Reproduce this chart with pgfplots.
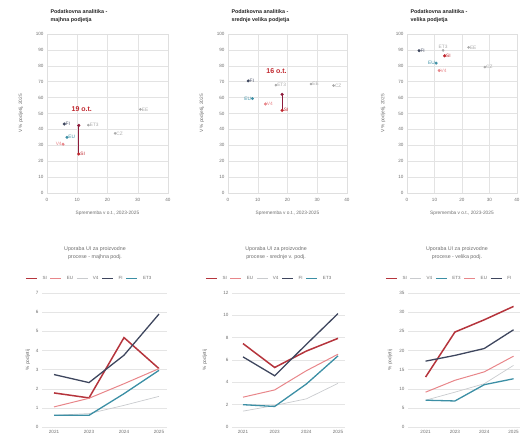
\documentclass[border=0pt]{standalone}
\usepackage{fontspec}
\setmainfont{Liberation Sans}
\usepackage{pgfplots}
\pgfplotsset{compat=1.18}
\definecolor{sidark}{HTML}{8E1B3B}
\definecolor{sired}{HTML}{C0262D}
\definecolor{siline}{HTML}{B5343C}
\definecolor{eupink}{HTML}{E8868A}
\definecolor{v4gray}{HTML}{C9CBCE}
\definecolor{finavy}{HTML}{3E465E}
\definecolor{etteal}{HTML}{3C8FA5}
\definecolor{ptgray}{HTML}{A9A9A9}
\definecolor{txtgray}{HTML}{6E6E6E}
\tikzset{pl/.style={font=\fontsize{4.8}{5}\selectfont, inner sep=1.2pt}}
\pgfplotsset{
  scat/.style={scale only axis, height=159pt, xmin=0, xmax=40, ymin=0, ymax=100,
    xtick={0,10,...,40}, ytick={0,10,...,100}, grid=major,
    grid style={gray!22, line width=0.4pt}, axis line style={gray!25},
    major tick length=0pt, clip=false,
    /pgf/number format/assume math mode=true,
    tick label style={font=\fontsize{4.6}{5}\selectfont, text=txtgray},
    xticklabel style={yshift=-2pt},
    xlabel={Sprememba v o.t., 2023-2025}, ylabel={V \% podjetij, 2025},
    label style={font=\fontsize{4.8}{5}\selectfont, text=txtgray},
    xlabel style={at={(axis description cs:0.5,-0.13)}, anchor=center},
    title style={at={(axis description cs:0,1)}, anchor=south west, align=left,
      yshift=2pt, font=\bfseries\fontsize{5.4}{7.5}\selectfont, text=black!85},
  },
  lin/.style={scale only axis, height=134pt, ymin=0,
    xtick={0,1,2,3}, xticklabels={2021,2023,2024,2025},
    ymajorgrids, grid style={gray!20, line width=0.4pt}, axis line style={draw=none},
    major tick length=0pt,
    /pgf/number format/assume math mode=true,
    tick label style={font=\fontsize{4.6}{5}\selectfont, text=txtgray},
    ylabel={\% podjetij},
    label style={font=\fontsize{4.8}{5}\selectfont, text=txtgray},
    title style={align=center, anchor=center, font=\fontsize{5.3}{8}\selectfont, text=txtgray},
    legend columns=5,
    legend style={draw=none, fill=none, anchor=west, inner sep=0pt,
      font=\fontsize{4.5}{5}\selectfont, text=txtgray,
      /tikz/every even column/.append style={column sep=1pt},
      /tikz/every odd column/.append style={column sep=3pt}},
    legend image code/.code={\draw[#1] (0pt,0pt) -- (11pt,0pt);},
  },
}
\begin{document}
\begin{tikzpicture}
\useasboundingbox (0,0) rectangle (523pt,440pt);
% ---------- Scatter 1 ----------
\begin{axis}[scat, at={(47pt,247pt)}, anchor=south west, width=121pt,
  ylabel style={at={(axis description cs:-0.215,0.5)}, anchor=center},
  title={Podatkovna analitika -\\majhna podjetja}]
\addplot[sidark, line width=0.6pt] coordinates {(10.5,42.5) (10.5,24.5)};
\addplot[only marks, mark=*, mark size=1.3pt, finavy] coordinates {(5.7,43.4)};
\addplot[only marks, mark=*, mark size=1.3pt, etteal] coordinates {(6.6,35)};
\addplot[only marks, mark=*, mark size=1.3pt, eupink] coordinates {(5.3,30.7)};
\addplot[only marks, mark=*, mark size=1.1pt, ptgray] coordinates {(13.7,42.7) (22.5,37.5) (30.9,52.6)};
\addplot[only marks, mark=*, mark size=1.4pt, sidark] coordinates {(10.5,42.5)};
\addplot[only marks, mark=*, mark size=1.4pt, sired] coordinates {(10.5,24.5)};
\node[pl, right, text=finavy] at (axis cs:5.7,43.4) {FI};
\node[pl, right, text=etteal] at (axis cs:6.6,35) {EU};
\node[pl, left, text=eupink] at (axis cs:5.3,30.7) {V4};
\node[pl, right, text=ptgray] at (axis cs:13.7,42.7) {ET3};
\node[pl, right, text=ptgray] at (axis cs:22.5,37.5) {CZ};
\node[pl, right, text=ptgray] at (axis cs:30.9,52.6) {EE};
\node[pl, right, text=sired] at (axis cs:10.6,24.5) {SI};
\node[font=\bfseries\fontsize{7}{8}\selectfont, text=sired] at (axis cs:11.5,52.6) {19 o.t.};
\end{axis}
% ---------- Scatter 2 ----------
\begin{axis}[scat, at={(228pt,247pt)}, anchor=south west, width=119pt,
  ylabel style={at={(axis description cs:-0.22,0.5)}, anchor=center},
  title={Podatkovna analitika -\\srednje velika podjetja}]
\addplot[sidark, line width=0.6pt] coordinates {(18.2,62) (18.2,52)};
\addplot[only marks, mark=*, mark size=1.3pt, finavy] coordinates {(6.8,70.5)};
\addplot[only marks, mark=*, mark size=1.3pt, etteal] coordinates {(8.2,59.4)};
\addplot[only marks, mark=*, mark size=1.3pt, eupink] coordinates {(12.6,56)};
\addplot[only marks, mark=*, mark size=1.1pt, ptgray] coordinates {(16.1,67.8) (27.9,68.6) (35.5,67.6)};
\addplot[only marks, mark=*, mark size=1.4pt, sidark] coordinates {(18.2,62)};
\addplot[only marks, mark=*, mark size=1.4pt, sired] coordinates {(18.2,52)};
\node[pl, right, text=finavy] at (axis cs:6.8,70.5) {FI};
\node[pl, left, text=etteal] at (axis cs:8.2,59.4) {EU};
\node[pl, right, text=eupink] at (axis cs:12.6,56) {V4};
\node[pl, right, text=ptgray] at (axis cs:16.1,67.8) {ET3};
\node[pl, right, text=ptgray] at (axis cs:27.9,68.6) {EE};
\node[pl, right, text=ptgray] at (axis cs:35.5,67.6) {CZ};
\node[pl, right, text=sired] at (axis cs:18.3,52) {SI};
\node[font=\bfseries\fontsize{7}{8}\selectfont, text=sired] at (axis cs:16.3,76.8) {16 o.t.};
\end{axis}
% ---------- Scatter 3 ----------
\begin{axis}[scat, at={(407pt,247pt)}, anchor=south west, width=110pt,
  ylabel style={at={(axis description cs:-0.218,0.5)}, anchor=center},
  title={Podatkovna analitika -\\velika podjetja}]
\addplot[only marks, mark=*, mark size=1.3pt, finavy] coordinates {(4.4,89.5)};
\addplot[only marks, mark=*, mark size=1.3pt, etteal] coordinates {(10.6,81.7)};
\addplot[only marks, mark=*, mark size=1.3pt, eupink] coordinates {(11.7,77)};
\addplot[only marks, mark=*, mark size=1.1pt, ptgray] coordinates {(13.1,89.7) (22.4,91.6) (28.3,79.2)};
\addplot[only marks, mark=*, mark size=1.4pt, sired] coordinates {(13.7,86.3)};
\node[pl, right, text=finavy] at (axis cs:4.4,89.5) {FI};
\node[pl, left, text=etteal] at (axis cs:10.6,81.7) {EU};
\node[pl, right, text=eupink] at (axis cs:11.7,77) {V4};
\node[pl, above, text=ptgray] at (axis cs:13.1,89.7) {ET3};
\node[pl, right, text=ptgray] at (axis cs:22.4,91.6) {EE};
\node[pl, right, text=ptgray] at (axis cs:28.3,79.2) {CZ};
\node[pl, right, text=sired] at (axis cs:13.7,86.3) {SI};
\end{axis}
% ---------- Line 1 ----------
\begin{axis}[lin, at={(42pt,13pt)}, anchor=south west, width=125pt,
  xmin=-0.343, xmax=3.229, ymax=7, ytick={0,1,...,7},
  ylabel style={at={(axis description cs:-0.112,0.5)}, anchor=center},
  title={Uporaba UI za proizvodne\\procese - majhna podj.},
  title style={at={(axis description cs:0.424,1.254)}},
  legend style={at={(axis description cs:-0.136,1.11)}}]
\addplot[siline, line width=1.5pt] coordinates {(0,1.78) (1,1.52) (2,4.67) (3,3.05)};
\addplot[eupink, line width=1pt] coordinates {(0,1.05) (1,1.5) (2,2.26) (3,3.05)};
\addplot[v4gray, line width=0.7pt] coordinates {(0,0.61) (1,0.7) (2,1.13) (3,1.6)};
\addplot[finavy, line width=1.3pt] coordinates {(0,2.74) (1,2.32) (2,3.75) (3,5.9)};
\addplot[etteal, line width=1.3pt] coordinates {(0,0.61) (1,0.61) (2,1.74) (3,2.96)};
\legend{SI,EU,V4,FI,ET3}
\end{axis}
% ---------- Line 2 ----------
\begin{axis}[lin, at={(232pt,13pt)}, anchor=south west, width=113pt,
  xmin=-0.347, xmax=3.22, ymax=12, ytick={0,2,...,12},
  ylabel style={at={(axis description cs:-0.239,0.5)}, anchor=center},
  title={Uporaba UI za proizvodne\\procese - srednje v. podj.},
  title style={at={(axis description cs:0.39,1.254)}},
  legend style={at={(axis description cs:-0.239,1.11)}}]
\addplot[siline, line width=1.5pt] coordinates {(0,7.47) (1,5.33) (2,6.8) (3,7.94)};
\addplot[eupink, line width=1pt] coordinates {(0,2.67) (1,3.32) (2,5.04) (3,6.52)};
\addplot[v4gray, line width=0.7pt] coordinates {(0,1.42) (1,1.93) (2,2.52) (3,3.91)};
\addplot[finavy, line width=1.3pt] coordinates {(0,6.28) (1,4.59) (2,7.4) (3,10.16)};
\addplot[etteal, line width=1.3pt] coordinates {(0,2.0) (1,1.84) (2,3.85) (3,6.37)};
\legend{SI,EU,V4,FI,ET3}
\end{axis}
% ---------- Line 3 ----------
\begin{axis}[lin, at={(408pt,13pt)}, anchor=south west, width=112pt,
  xmin=-0.6, xmax=3.22, ymax=35, ytick={0,5,...,35},
  ylabel style={at={(axis description cs:-0.16,0.5)}, anchor=center},
  title={Uporaba UI za proizvodne\\procese - velika podj.},
  title style={at={(axis description cs:0.437,1.254)}},
  legend style={at={(axis description cs:-0.205,1.11)}}]
\addplot[siline, line width=1.5pt] coordinates {(0,13.05) (1,24.8) (2,28.0) (3,31.5)};
\addplot[v4gray, line width=0.7pt] coordinates {(0,7.0) (1,9.1) (2,11.3) (3,16.1)};
\addplot[etteal, line width=1.3pt] coordinates {(0,7.0) (1,6.8) (2,11.05) (3,12.6)};
\addplot[eupink, line width=1pt] coordinates {(0,9.1) (1,12.2) (2,14.4) (3,18.5)};
\addplot[finavy, line width=1.3pt] coordinates {(0,17.2) (1,18.7) (2,20.5) (3,25.4)};
\legend{SI,V4,ET3,EU,FI}
\end{axis}
\end{tikzpicture}
\end{document}
